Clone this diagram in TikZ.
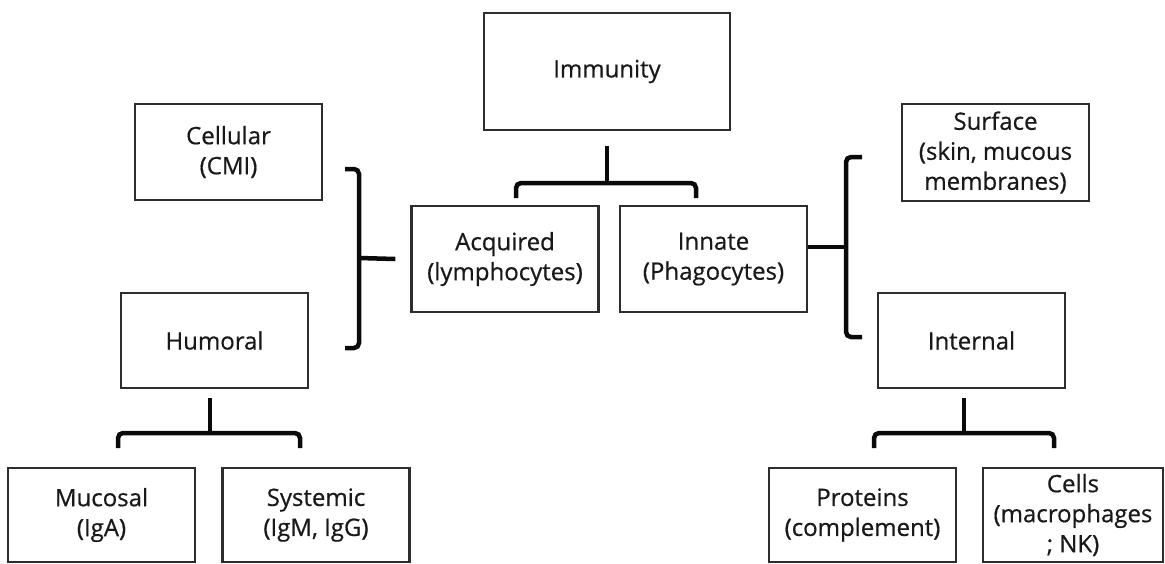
\documentclass[tikz,border=0pt]{standalone}
\usepackage{fontspec}
\setsansfont{Open Sans}[UprightFeatures={FakeBold=0.6}]
\usetikzlibrary{positioning}
\definecolor{boxline}{RGB}{45,45,45}
\definecolor{braceline}{RGB}{10,10,10}
\definecolor{labeltext}{RGB}{25,25,25}
\tikzset{
  font=\sffamily\fontsize{24}{30}\selectfont,
  box/.style={
    draw=boxline,
    line width=2.2pt,
    align=center,
    text=labeltext,
    inner sep=0pt,
    minimum width=187pt,
    minimum height=96pt
  },
  rootbox/.style={box,minimum width=246pt,minimum height=117pt},
  midbox/.style={box,minimum height=106pt},
  leafbox/.style={box,minimum height=94pt},
  brace/.style={draw=braceline,line width=4.5pt,rounded corners=5pt}
}
\begin{document}
\begin{tikzpicture}[x=1pt,y=1pt]

  \useasboundingbox (0,0) rectangle (1165,-563);

  \node[rootbox] (immunity) at (607,-71.5) {Immunity};

  \node[box] (cellular) at (228.5,-152) {Cellular\\(CMI)};
  \node[midbox] (acquired) at (505,-259) {Acquired\\(lymphocytes)};
  \node[midbox] (innate) at (713.5,-259) {Innate\\(Phagocytes)};
  \node[box,minimum height=97pt] (surface) at (995.5,-152.5) {Surface\\(skin, mucous\\membranes)};

  \node[box,minimum height=95pt] (humoral) at (214.5,-340.5) {Humoral};
  \node[box,minimum height=95pt] (internal) at (971.5,-340.5) {Internal};

  \node[leafbox] (mucosal) at (101.5,-515) {Mucosal\\(IgA)};
  \node[leafbox] (systemic) at (316,-515) {Systemic\\(IgM, IgG)};
  \node[leafbox] (proteins) at (862.5,-515) {Proteins\\(complement)};
  \node[leafbox,minimum width=180pt] (cells) at (1073,-515) {Cells\\(macrophages\\; NK)};

  % forks of the brackets
  \coordinate (topfork) at (607,-183);
  \coordinate (leftfork) at (359,-258);
  \coordinate (rightfork) at (846,-247);
  \coordinate (humfork) at (210,-433);
  \coordinate (intfork) at (964,-433);

  \draw[brace] (immunity.south) ++(0,-15) -- (topfork);
  \draw[brace] (516,-198) |- (topfork) -| (696,-198);

  \draw[brace] (acquired.west) ++(-15,0) -- (leftfork);
  \draw[brace] (345,-169) -| (leftfork) |- (345,-348);

  \draw[brace] (innate.east |- rightfork) -- (rightfork);
  \draw[brace] (862,-157) -| (rightfork) |- (862,-337);

  \draw[brace] (humoral.south -| humfork) ++(0,-9) -- (humfork);
  \draw[brace] (118,-448) |- (humfork) -| (300,-448);

  \draw[brace] (internal.south -| intfork) ++(0,-9) -- (intfork);
  \draw[brace] (874,-448) |- (intfork) -| (1054,-448);

\end{tikzpicture}
\end{document}
